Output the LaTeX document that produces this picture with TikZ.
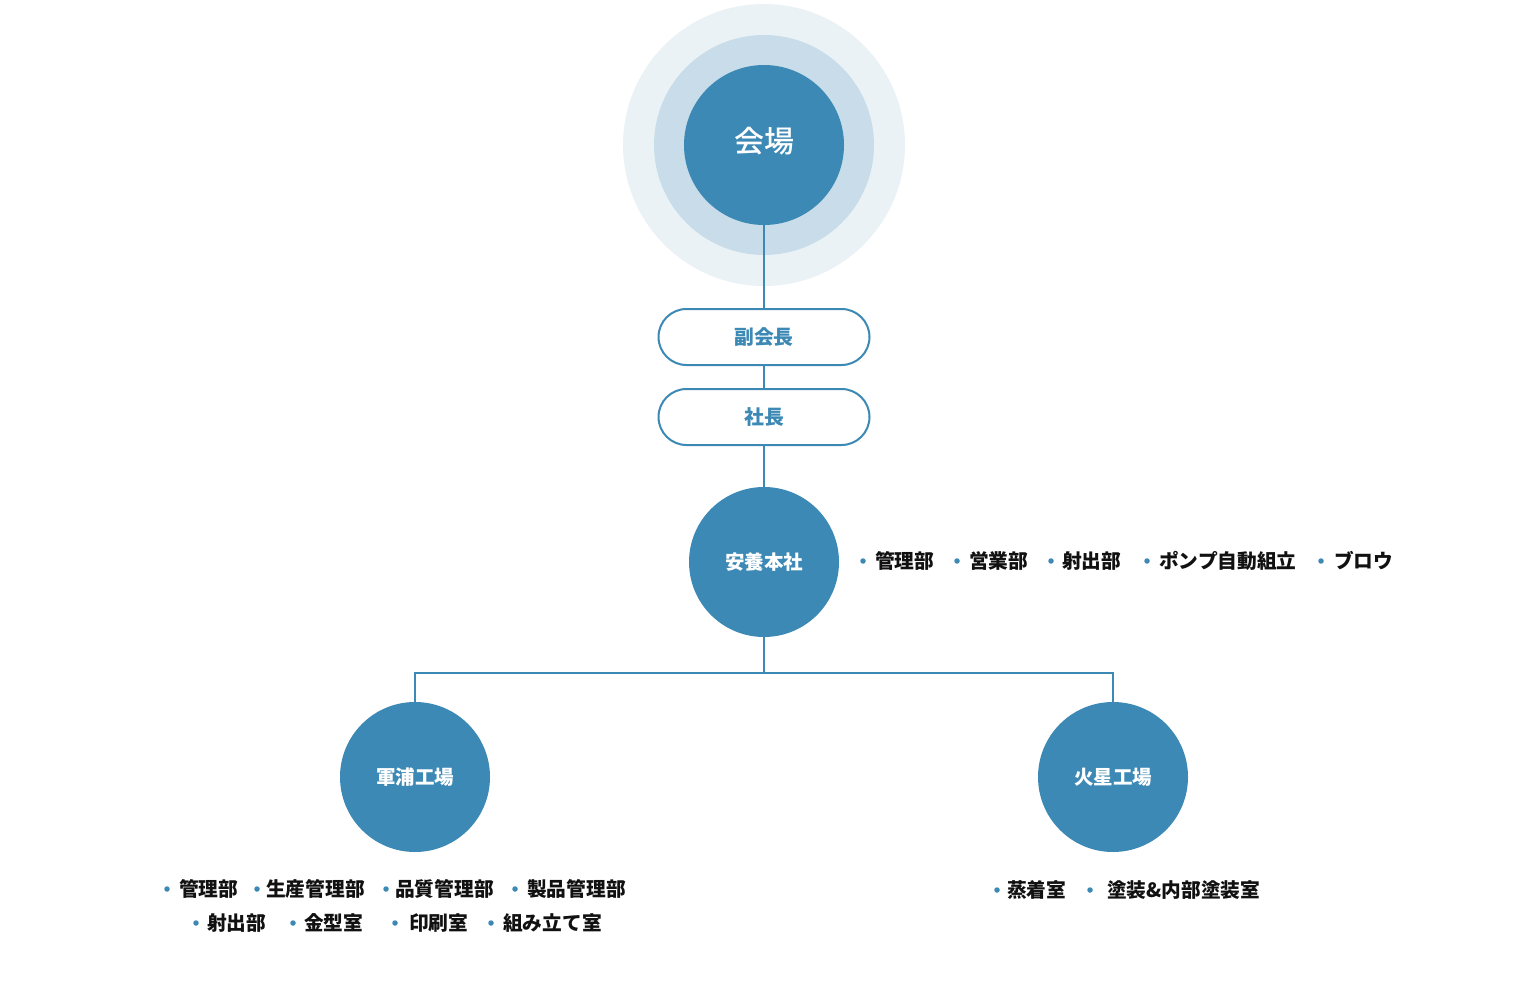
\documentclass[tikz,border=0pt]{standalone}
\usepackage{fontspec}
\setmainfont{Noto Sans CJK JP}
\newfontfamily\medfont{Noto Sans CJK JP Medium}
\definecolor{mainblue}{HTML}{3C89B5}
\definecolor{ringmid}{HTML}{C8DDE9}
\definecolor{ringout}{HTML}{EAF2F6}
\definecolor{itemtext}{HTML}{111111}
\tikzset{
  conn/.style={draw=mainblue, line width=2.5pt},
  bigdot/.style={circle, fill=mainblue, inner sep=0pt, text=white, font=\bfseries\fontsize{19.5}{19.5}\selectfont},
  pill/.style={draw=mainblue, line width=2pt, fill=white, rounded corners=28pt, minimum width=211pt, minimum height=56pt, inner sep=0pt, text=mainblue, font=\bfseries\fontsize{19.8}{19.8}\selectfont},
  item/.style={anchor=west, inner sep=0pt, text=itemtext, font=\bfseries\fontsize{19.7}{19.7}\selectfont},
  bul/.style={circle, fill=mainblue, inner sep=0pt, minimum size=5.5pt}
}
\begin{document}
\begin{tikzpicture}[x=1pt,y=-1pt]
\useasboundingbox (0,0) rectangle (1520,1000);
% top rings
\node[circle, fill=ringout, minimum size=282pt, inner sep=0pt] (outerring) at (764,145) {};
\node[circle, fill=ringmid, minimum size=220pt, inner sep=0pt] (midring) at (764,145) {};
\node[bigdot, minimum size=160pt] (chair) at (764,145) {};
\node[text=white, inner sep=0pt, font=\medfont\fontsize{30}{30}\selectfont] (chairtext) at (764,141) {会場};
% pills
\node[pill] (vice) at (764,337) {副会長};
\node[pill] (pres) at (764,417) {社長};
% main circles
\node[bigdot, minimum size=150pt] (hq) at (764,562) {安養本社};
\node[bigdot, minimum size=150pt] (gunpo) at (415,777) {軍浦工場};
\node[bigdot, minimum size=150pt] (kasei) at (1113,777) {火星工場};
\coordinate (split) at (764,673);
% connectors
\draw[conn] (chair.south) -- (vice.north);
\draw[conn] (vice.south) -- (pres.north);
\draw[conn] (pres.south) -- (hq.north);
\draw[conn] (hq.south) -- (split);
\draw[conn] (gunpo.north) |- (split) -| (kasei.north);
% HQ list
\node[bul] (hb1) at (863,561) {};
\node[item] (h1) at (875,561) {管理部};
\node[bul] (hb2) at (957,561) {};
\node[item] (h2) at (969,561) {営業部};
\node[bul] (hb3) at (1051,561) {};
\node[item] (h3) at (1062,561) {射出部};
\node[bul] (hb4) at (1147,561) {};
\node[item] (h4) at (1159,561) {ポンプ自動組立};
\node[bul] (hb5) at (1321,561) {};
\node[item] (h5) at (1334,561) {ブロウ};
% Gunpo list
\node[bul] (gb1) at (167,889) {};
\node[item] (g1) at (179,889) {管理部};
\node[bul] (gb2) at (257,889) {};
\node[item] (g2) at (266,889) {生産管理部};
\node[bul] (gb3) at (386,889) {};
\node[item] (g3) at (395,889) {品質管理部};
\node[bul] (gb4) at (515,889) {};
\node[item] (g4) at (527,889) {製品管理部};
\node[bul] (gb5) at (196,923) {};
\node[item] (g5) at (207,923) {射出部};
\node[bul] (gb6) at (293,923) {};
\node[item] (g6) at (304,923) {金型室};
\node[bul] (gb7) at (395,923) {};
\node[item] (g7) at (409,923) {印刷室};
\node[bul] (gb8) at (491,923) {};
\node[item] (g8) at (503,923) {組み立て室};
% Kasei list
\node[bul] (kb1) at (997,890) {};
\node[item] (k1) at (1007,890) {蒸着室};
\node[bul] (kb2) at (1090,890) {};
\node[item] (k2) at (1107,890) {塗装\&内部塗装室};
\end{tikzpicture}
\end{document}
